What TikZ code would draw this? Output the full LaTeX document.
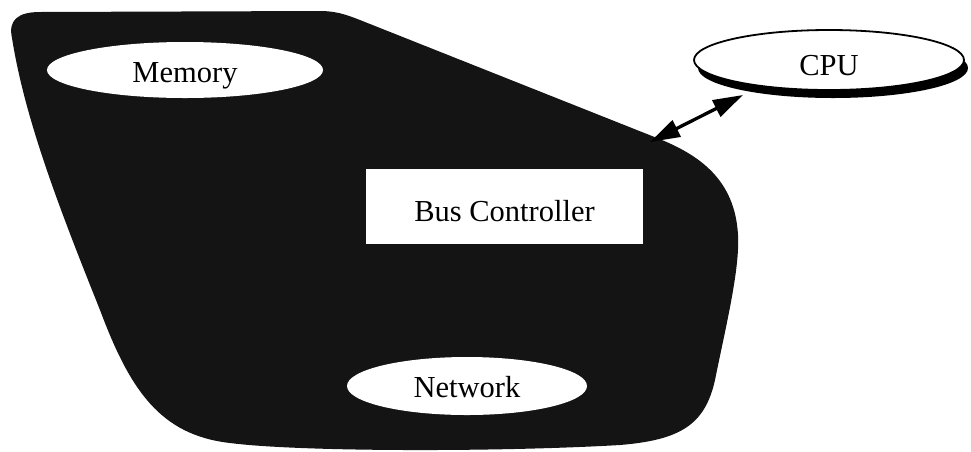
\documentclass[tikz,border=0pt]{standalone}
\usepackage{fontspec}
\setmainfont{Liberation Serif}
\usetikzlibrary{shapes.geometric,arrows.meta,shadows}
\definecolor{blobfill}{gray}{0.08}
\tikzset{
  lbl/.style={font=\fontsize{30.5}{36}\selectfont, inner sep=0pt, text depth=0pt},
  oval/.style={lbl, ellipse, fill=white},
  busbox/.style={lbl, rectangle, fill=white},
  link/.style={line width=3.3pt, {Triangle[length=30pt,width=18pt]}-{Triangle[length=30pt,width=18pt]}}
}
\begin{document}
\begin{tikzpicture}[x=1pt,y=-1pt]
  \useasboundingbox (0,0) rectangle (971,451);

  % the shaded system region
  \fill[blobfill] (12,38) .. controls (8,20) and (18,12) .. (40,12)
    -- (320,11) .. controls (340,11) and (352,17) .. (370,24)
    -- (657,138) .. controls (700,155) and (735,180) .. (738,235)
    .. controls (740,270) and (725,330) .. (715,380)
    .. controls (705,425) and (680,440) .. (620,445)
    .. controls (500,452) and (300,452) .. (230,443)
    .. controls (160,435) and (130,390) .. (100,310)
    .. controls (60,210) and (25,120) .. (12,38) -- cycle;
  \coordinate (port) at (650,142);

  % components inside the region
  \node[oval, minimum width=276pt, minimum height=56pt, text height=24pt] (mem) at (185,70) {Memory};
  \node[busbox, minimum width=277pt, minimum height=75pt, text height=31pt] (bus) at (504.5,206) {Bus Controller};
  \node[oval, minimum width=240pt, minimum height=58pt, text height=22pt] (net) at (467,386) {Network};

  % external processor
  \node[oval, draw=black, line width=1.8pt, minimum width=270pt, minimum height=60pt, text height=30pt,
        general shadow={fill=black, shadow xshift=4pt, shadow yshift=-8pt}] (cpu) at (829,60) {CPU};
  \coordinate (cpuport) at (743,95);

  \draw[link] (port) -- (cpuport);
\end{tikzpicture}
\end{document}
